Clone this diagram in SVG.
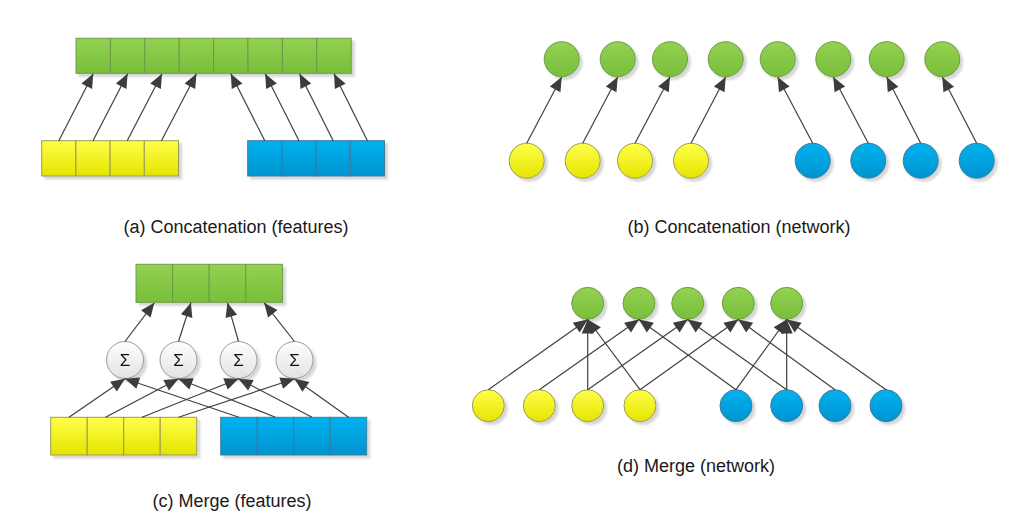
<svg xmlns="http://www.w3.org/2000/svg" width="1026" height="526" viewBox="0 0 1026 526">
<defs>
<linearGradient id="gG" x1="0" y1="0" x2="0" y2="1"><stop offset="0" stop-color="#94d152"/><stop offset="1" stop-color="#78bf3a"/></linearGradient>
<linearGradient id="gY" x1="0" y1="0" x2="0" y2="1"><stop offset="0" stop-color="#ffff4a"/><stop offset="1" stop-color="#e4e400"/></linearGradient>
<linearGradient id="gB" x1="0" y1="0" x2="0" y2="1"><stop offset="0" stop-color="#00b2f0"/><stop offset="1" stop-color="#0094cf"/></linearGradient>
<linearGradient id="gS" x1="0" y1="0" x2="0" y2="1"><stop offset="0" stop-color="#ffffff"/><stop offset="1" stop-color="#e2e2e2"/></linearGradient>
<filter id="sh" x="-30%" y="-30%" width="160%" height="160%">
<feGaussianBlur in="SourceAlpha" stdDeviation="1.2"/>
<feOffset dx="3" dy="3" result="o"/>
<feFlood flood-color="#000" flood-opacity="0.16"/>
<feComposite in2="o" operator="in"/>
<feMerge><feMergeNode/><feMergeNode in="SourceGraphic"/></feMerge>
</filter>
<marker id="ah" markerUnits="userSpaceOnUse" markerWidth="15" markerHeight="13" refX="14" refY="6" orient="auto" overflow="visible">
<path d="M0,0 L14,6 L0,12 z" fill="#3c3c3c"/>
</marker>
</defs>
<style>
.g{fill:url(#gG);stroke:#6e9a48;stroke-width:1}
.y{fill:url(#gY);stroke:#9a9a5a;stroke-width:1}
.b{fill:url(#gB);stroke:#407a9a;stroke-width:1}
.s{fill:url(#gS);stroke:#999;stroke-width:1}
.n{filter:url(#sh)}
#connectors line{stroke:#404040;stroke-width:1.2;marker-end:url(#ah)}
.lbl{font-family:"Liberation Sans",Arial,sans-serif;font-size:18px;fill:#1a1a1a;text-anchor:middle}
.sig{font-family:"Liberation Sans",Arial,sans-serif;font-size:17px;fill:#111;text-anchor:middle}
</style>
<rect width="1026" height="526" fill="#fff"/>

<!-- (a) -->
<g id="a-out" class="n">
<rect class="g" x="76" y="38.3" width="34.4" height="35"/>
<rect class="g" x="110.4" y="38.3" width="34.4" height="35"/>
<rect class="g" x="144.8" y="38.3" width="34.4" height="35"/>
<rect class="g" x="179.2" y="38.3" width="34.4" height="35"/>
<rect class="g" x="213.6" y="38.3" width="34.4" height="35"/>
<rect class="g" x="248" y="38.3" width="34.4" height="35"/>
<rect class="g" x="282.4" y="38.3" width="34.4" height="35"/>
<rect class="g" x="316.8" y="38.3" width="34.4" height="35"/>
</g>
<g id="a-yellow" class="n">
<rect class="y" x="41.7" y="140.7" width="34.2" height="35.3"/>
<rect class="y" x="75.9" y="140.7" width="34.2" height="35.3"/>
<rect class="y" x="110.1" y="140.7" width="34.2" height="35.3"/>
<rect class="y" x="144.3" y="140.7" width="34.2" height="35.3"/>
</g>
<g id="a-blue" class="n">
<rect class="b" x="247.7" y="140.7" width="34.2" height="35.3"/>
<rect class="b" x="281.9" y="140.7" width="34.2" height="35.3"/>
<rect class="b" x="316.1" y="140.7" width="34.2" height="35.3"/>
<rect class="b" x="350.3" y="140.7" width="34.2" height="35.3"/>
</g>

<!-- (b) -->
<g id="b-out" class="n">
<circle class="g" cx="561.7" cy="59.2" r="17.5"/>
<circle class="g" cx="617.7" cy="59.2" r="17.5"/>
<circle class="g" cx="670" cy="59.2" r="17.5"/>
<circle class="g" cx="725.7" cy="59.2" r="17.5"/>
<circle class="g" cx="777.7" cy="59.2" r="17.5"/>
<circle class="g" cx="833.3" cy="59.2" r="17.5"/>
<circle class="g" cx="886.7" cy="59.2" r="17.5"/>
<circle class="g" cx="942.3" cy="59.2" r="17.5"/>
</g>
<g id="b-yellow" class="n">
<circle class="y" cx="526.7" cy="160.7" r="17.5"/>
<circle class="y" cx="582.7" cy="160.7" r="17.5"/>
<circle class="y" cx="635" cy="160.7" r="17.5"/>
<circle class="y" cx="691" cy="160.7" r="17.5"/>
</g>
<g id="b-blue" class="n">
<circle class="b" cx="812.7" cy="160.7" r="17.5"/>
<circle class="b" cx="868.3" cy="160.7" r="17.5"/>
<circle class="b" cx="920.7" cy="160.7" r="17.5"/>
<circle class="b" cx="976.7" cy="160.7" r="17.5"/>
</g>

<!-- (c) -->
<g id="c-out" class="n">
<rect class="g" x="136" y="264.3" width="36.6" height="38"/>
<rect class="g" x="172.6" y="264.3" width="36.6" height="38"/>
<rect class="g" x="209.2" y="264.3" width="36.6" height="38"/>
<rect class="g" x="245.8" y="264.3" width="36.6" height="38"/>
</g>
<g id="c-sum1" class="n"><circle class="s" cx="125" cy="360" r="18.5"/><text class="sig" x="125" y="366">Σ</text></g>
<g id="c-sum2" class="n"><circle class="s" cx="178.5" cy="360" r="18.5"/><text class="sig" x="178.5" y="366">Σ</text></g>
<g id="c-sum3" class="n"><circle class="s" cx="238.5" cy="360" r="18.5"/><text class="sig" x="238.5" y="366">Σ</text></g>
<g id="c-sum4" class="n"><circle class="s" cx="294.5" cy="360" r="18.5"/><text class="sig" x="294.5" y="366">Σ</text></g>
<g id="c-yellow" class="n">
<rect class="y" x="50.7" y="417.3" width="36.5" height="37.7"/>
<rect class="y" x="87.2" y="417.3" width="36.5" height="37.7"/>
<rect class="y" x="123.7" y="417.3" width="36.5" height="37.7"/>
<rect class="y" x="160.2" y="417.3" width="36.5" height="37.7"/>
</g>
<g id="c-blue" class="n">
<rect class="b" x="220.7" y="417.3" width="36.5" height="37.7"/>
<rect class="b" x="257.2" y="417.3" width="36.5" height="37.7"/>
<rect class="b" x="293.7" y="417.3" width="36.5" height="37.7"/>
<rect class="b" x="330.2" y="417.3" width="36.5" height="37.7"/>
</g>

<!-- (d) -->
<g id="d-out" class="n">
<circle class="g" cx="587.7" cy="303.3" r="16"/>
<circle class="g" cx="639" cy="303.3" r="16"/>
<circle class="g" cx="687.7" cy="303.3" r="16"/>
<circle class="g" cx="738.3" cy="303.3" r="16"/>
<circle class="g" cx="786.7" cy="303.3" r="16"/>
</g>
<g id="d-yellow" class="n">
<circle class="y" cx="488.3" cy="405.7" r="16"/>
<circle class="y" cx="539.3" cy="405.7" r="16"/>
<circle class="y" cx="587.7" cy="405.7" r="16"/>
<circle class="y" cx="640" cy="405.7" r="16"/>
</g>
<g id="d-blue" class="n">
<circle class="b" cx="736" cy="405.7" r="16"/>
<circle class="b" cx="786.7" cy="405.7" r="16"/>
<circle class="b" cx="835" cy="405.7" r="16"/>
<circle class="b" cx="886" cy="405.7" r="16"/>
</g>

<g id="connectors">
<!-- a -->
<line x1="58.8" y1="140.7" x2="93.2" y2="73.8"/>
<line x1="93" y1="140.7" x2="127.6" y2="73.8"/>
<line x1="127.2" y1="140.7" x2="162" y2="73.8"/>
<line x1="161.4" y1="140.7" x2="196.4" y2="73.8"/>
<line x1="264.8" y1="140.7" x2="230.8" y2="73.8"/>
<line x1="299" y1="140.7" x2="265.2" y2="73.8"/>
<line x1="333.2" y1="140.7" x2="299.6" y2="73.8"/>
<line x1="367.4" y1="140.7" x2="334" y2="73.8"/>
<!-- b -->
<line x1="526.7" y1="143.2" x2="561.7" y2="77"/>
<line x1="582.7" y1="143.2" x2="617.7" y2="77"/>
<line x1="635" y1="143.2" x2="670" y2="77"/>
<line x1="691" y1="143.2" x2="725.7" y2="77"/>
<line x1="812.7" y1="143.2" x2="777.7" y2="77"/>
<line x1="868.3" y1="143.2" x2="833.3" y2="77"/>
<line x1="920.7" y1="143.2" x2="886.7" y2="77"/>
<line x1="976.7" y1="143.2" x2="942.3" y2="77"/>
<!-- c -->
<line x1="125" y1="341.5" x2="154.3" y2="302.8"/>
<line x1="178.5" y1="341.5" x2="190.9" y2="302.8"/>
<line x1="238.5" y1="341.5" x2="227.5" y2="302.8"/>
<line x1="294.5" y1="341.5" x2="264.1" y2="302.8"/>
<line x1="69" y1="417.3" x2="125" y2="378.7"/>
<line x1="105.5" y1="417.3" x2="178.5" y2="378.7"/>
<line x1="142" y1="417.3" x2="238.5" y2="378.7"/>
<line x1="178.5" y1="417.3" x2="294.5" y2="378.7"/>
<line x1="239" y1="417.3" x2="125" y2="378.7"/>
<line x1="275.5" y1="417.3" x2="178.5" y2="378.7"/>
<line x1="312" y1="417.3" x2="238.5" y2="378.7"/>
<line x1="348.5" y1="417.3" x2="294.5" y2="378.7"/>
<!-- d -->
<line x1="488.3" y1="389.7" x2="587.7" y2="319.5"/>
<line x1="587.7" y1="389.7" x2="587.7" y2="319.5"/>
<line x1="640" y1="389.7" x2="587.7" y2="319.5"/>
<line x1="539.3" y1="389.7" x2="639" y2="319.5"/>
<line x1="736" y1="389.7" x2="639" y2="319.5"/>
<line x1="587.7" y1="389.7" x2="687.7" y2="319.5"/>
<line x1="786.7" y1="389.7" x2="687.7" y2="319.5"/>
<line x1="640" y1="389.7" x2="738.3" y2="319.5"/>
<line x1="835" y1="389.7" x2="738.3" y2="319.5"/>
<line x1="736" y1="389.7" x2="786.7" y2="319.5"/>
<line x1="786.7" y1="389.7" x2="786.7" y2="319.5"/>
<line x1="886" y1="389.7" x2="786.7" y2="319.5"/>
</g>

<g id="labels">
<text class="lbl" x="236" y="233">(a) Concatenation (features)</text>
<text class="lbl" x="739" y="233">(b) Concatenation (network)</text>
<text class="lbl" x="232" y="507">(c) Merge (features)</text>
<text class="lbl" x="696" y="472">(d) Merge (network)</text>
</g>
</svg>
